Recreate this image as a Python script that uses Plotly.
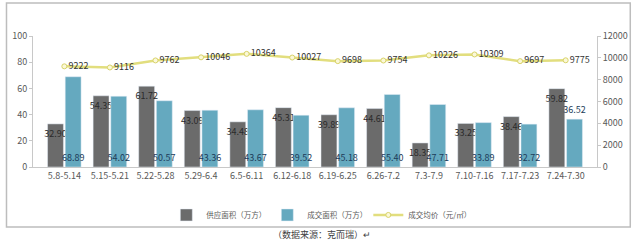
import plotly.graph_objects as go

categories = ["5.8-5.14", "5.15-5.21", "5.22-5.28", "5.29-6.4", "6.5-6.11", "6.12-6.18",
              "6.19-6.25", "6.26-7.2", "7.3-7.9", "7.10-7.16", "7.17-7.23", "7.24-7.30"]
supply = [32.90, 54.35, 61.72, 43.09, 34.48, 45.31, 39.89, 44.61, 18.35, 33.25, 38.46, 59.82]
deal = [68.89, 54.02, 50.57, 43.36, 43.67, 39.52, 45.18, 55.40, 47.71, 33.89, 32.72, 36.52]
price = [9222, 9116, 9762, 10046, 10364, 10027, 9698, 9754, 10226, 10309, 9697, 9775]

FONT = "Noto Sans CJK SC"

fig = go.Figure()
fig.add_trace(go.Bar(
    x=categories, y=supply, name="供应面积（万方）",
    marker=dict(color="#6b6b6b"),
    text=[f"{v:.2f}" for v in supply], textposition="inside", insidetextanchor="end",
    textfont=dict(color="#2a2a2a", size=9, family=FONT), textangle=0,
))
fig.add_trace(go.Bar(
    x=categories, y=deal, name="成交面积（万方）",
    marker=dict(color="#65a9bf"),
    text=[f"{v:.2f}" for v in deal],
    textposition=["inside"] * (len(deal) - 1) + ["outside"], insidetextanchor="start",
    textfont=dict(color="#1d3c5a", size=9, family=FONT), textangle=0,
    cliponaxis=False,
))
fig.add_trace(go.Scatter(
    x=categories, y=price, name="成交均价（元/㎡）", yaxis="y2",
    mode="lines+markers+text",
    line=dict(color="#e2de7e", width=2.5),
    marker=dict(symbol="circle", size=5, color="#fbf8d8", line=dict(color="#d8d36a", width=1)),
    text=[str(v) for v in price], textposition="middle right",
    textfont=dict(color="#333333", size=9, family=FONT),
    cliponaxis=False,
))

fig.update_layout(
    width=640, height=241,
    margin=dict(l=30, r=37, t=36, b=74),
    paper_bgcolor="white", plot_bgcolor="white",
    barmode="group", bargap=0.225, bargroupgap=0.1,
    uniformtext=dict(minsize=9, mode="show"),
    font=dict(family=FONT, size=9, color="#595959"),
    showlegend=True,
    legend=dict(orientation="h", x=0.505, xanchor="center", y=-0.366, yanchor="middle",
                font=dict(size=7.5, color="#595959"), itemwidth=30,
                entrywidth=56, entrywidthmode="pixels",
                bgcolor="rgba(0,0,0,0)"),
    xaxis=dict(showline=True, linecolor="#c8c8c8", linewidth=1, ticks="",
               tickfont=dict(size=9, color="#595959"), showgrid=False),
    yaxis=dict(range=[0, 100], dtick=20, showgrid=False, zeroline=False,
               showline=True, linecolor="#c8c8c8", ticks="outside", ticklen=3,
               tickcolor="#c8c8c8", tickfont=dict(size=9, color="#595959")),
    yaxis2=dict(range=[0, 12000], dtick=2000, tickformat="d", overlaying="y", side="right",
                showgrid=False, zeroline=False, showline=True, linecolor="#c8c8c8",
                ticks="outside", ticklen=3, tickcolor="#c8c8c8",
                tickfont=dict(size=9, color="#595959")),
    shapes=[dict(type="rect", xref="paper", yref="paper",
                 x0=-0.047, x1=1.059, y0=-0.458, y1=1.252,
                 line=dict(color="#bdbdbd", width=1.5), fillcolor="rgba(0,0,0,0)", layer="above")],
    annotations=[dict(text="（数据来源：克而瑞）↵", xref="paper", yref="paper",
                      x=0.513, y=-0.519, yanchor="middle", showarrow=False,
                      font=dict(size=9, color="#404040", family=FONT))],
)

fig.write_html("out.html")
